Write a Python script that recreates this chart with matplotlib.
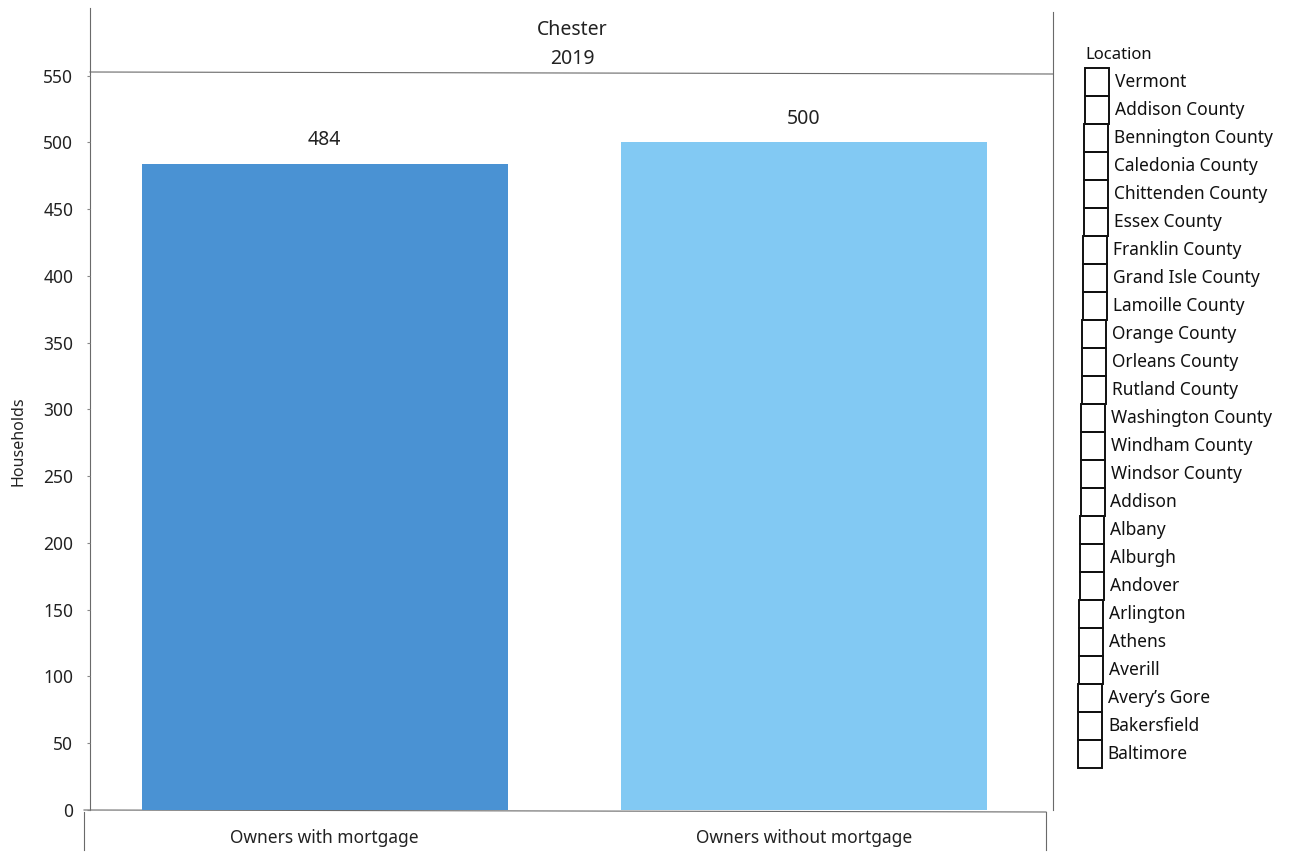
import matplotlib.pyplot as plt
from matplotlib.patches import Rectangle

categories = ['Owners with mortgage', 'Owners without mortgage']
households = [484, 500]
bar_colors = ['#4a92d3', '#82c9f3']
y_ticks = [0, 50, 100, 150, 200, 250, 300, 350, 400, 450, 500, 550]
place = 'Chester'
year = '2019'
locations = ['Vermont', 'Addison County', 'Bennington County', 'Caledonia County',
             'Chittenden County', 'Essex County', 'Franklin County', 'Grand Isle County',
             'Lamoille County', 'Orange County', 'Orleans County', 'Rutland County',
             'Washington County', 'Windham County', 'Windsor County', 'Addison',
             'Albany', 'Alburgh', 'Andover', 'Arlington', 'Athens', 'Averill',
             "Avery\u2019s Gore", 'Bakersfield', 'Baltimore']

plt.rcParams['font.family'] = ['Noto Sans', 'DejaVu Sans']
W, H = 1296, 855
fig = plt.figure(figsize=(W / 100, H / 100), dpi=100)

# background axes in pixel coordinates for frame lines and legend
bg = fig.add_axes([0, 0, 1, 1])
bg.set_xlim(0, W)
bg.set_ylim(H, 0)
bg.axis('off')

line_kw = dict(color='#6a6a6a', lw=0.8)
bg.plot([90, 90], [8, 810], **line_kw)
bg.plot([1053, 1053], [12, 810], **line_kw)
bg.plot([90, 1053], [72, 74], **line_kw)
bg.plot([84, 1046], [810, 812], **line_kw)
bg.plot([84, 84], [812, 850], **line_kw)
bg.plot([1046, 1046], [812, 850], **line_kw)

bg.text(572, 30, place, ha='center', va='center', fontsize=14, color='#222222')
bg.text(572, 59, year, ha='center', va='center', fontsize=14, color='#222222')

# legend
bg.text(1085, 55, 'Location', ha='left', va='center', fontsize=12,
        fontweight='semibold', color='#111111')
top, row_h = 68, 28
for i, name in enumerate(locations):
    y0 = top + i * row_h
    x0 = 1085 - i * 0.3
    bg.add_patch(Rectangle((x0, y0), 24, row_h, fill=False, ec='#111111', lw=1.4))
    bg.text(x0 + 30, y0 + row_h / 2, name, ha='left', va='center', fontsize=12.5,
            color='#111111')

# main bar axes
ax = fig.add_axes([90 / W, (H - 810) / H, (1053 - 90) / W, (810 - 73) / H])
ax.patch.set_alpha(0)
x = range(len(categories))
bars = ax.bar(x, households, width=0.765, color=bar_colors)
for b, v in zip(bars, households):
    ax.text(b.get_x() + b.get_width() / 2, v + 10, str(v), ha='center', va='bottom',
            fontsize=14, color='#222222')

ax.set_xlim(-0.49, 1.52)
ax.set_ylim(0, 552)
ax.set_yticks(y_ticks)
ax.set_xticks(list(x))
ax.set_xticklabels(categories, fontsize=12.5, color='#222222')
ax.tick_params(axis='x', length=0, pad=14)
ax.tick_params(axis='y', length=2, color='#888888', labelsize=12.5,
               labelcolor='#222222', pad=10)
for s in ax.spines.values():
    s.set_visible(False)
ax.set_ylabel('Households', fontsize=11.5, color='#222222', labelpad=12)

fig.savefig('out.png', dpi=100)
